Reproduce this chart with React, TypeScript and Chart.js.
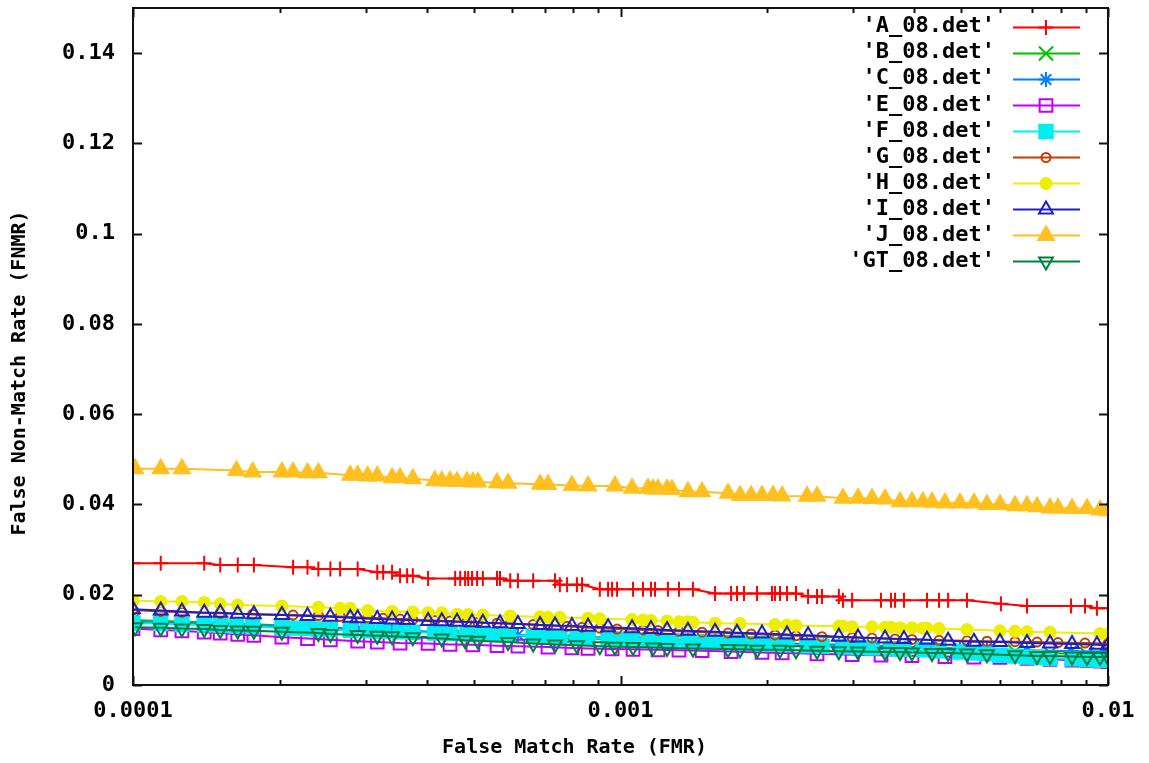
import React, { useEffect, useRef } from 'react';
import { Chart, registerables } from 'chart.js';
import { drawPoint } from 'chart.js/helpers';

Chart.register(...registerables);

// ---------- data (FMR on x, FNMR on y) ----------
const A_FMR = [1.0e-4, 1.14e-4, 1.40e-4, 1.51e-4, 1.64e-4, 1.77e-4, 2.13e-4, 2.28e-4, 2.40e-4, 2.54e-4, 2.66e-4, 2.89e-4, 3.17e-4, 3.26e-4, 3.40e-4, 3.53e-4, 3.65e-4, 3.75e-4, 4.03e-4, 4.58e-4, 4.69e-4, 4.80e-4, 4.87e-4, 4.96e-4, 5.08e-4, 5.22e-4, 5.58e-4, 5.66e-4, 5.94e-4, 6.16e-4, 6.62e-4, 7.34e-4, 7.51e-4, 7.77e-4, 8.14e-4, 8.34e-4, 9.07e-4, 9.43e-4, 9.61e-4, 9.84e-4, 1.061e-3, 1.112e-3, 1.155e-3, 1.177e-3, 1.251e-3, 1.318e-3, 1.408e-3, 1.563e-3, 1.686e-3, 1.734e-3, 1.792e-3, 1.906e-3, 2.045e-3, 2.074e-3, 2.124e-3, 2.196e-3, 2.291e-3, 2.425e-3, 2.530e-3, 2.590e-3, 2.805e-3, 2.860e-3, 2.986e-3, 3.423e-3, 3.589e-3, 3.657e-3, 3.815e-3, 4.253e-3, 4.502e-3, 4.699e-3, 5.136e-3, 6.03e-3, 6.822e-3, 8.40e-3, 8.97e-3, 9.49e-3, 1.0e-2];
const A_FNMR = [0.0270, 0.0270, 0.0270, 0.0266, 0.0266, 0.0266, 0.0261, 0.0261, 0.0257, 0.0257, 0.0257, 0.0257, 0.0250, 0.0250, 0.0250, 0.0242, 0.0242, 0.0242, 0.0236, 0.0236, 0.0236, 0.0236, 0.0236, 0.0236, 0.0236, 0.0236, 0.0236, 0.0236, 0.0231, 0.0231, 0.0231, 0.0231, 0.0222, 0.0222, 0.0222, 0.0222, 0.0212, 0.0212, 0.0212, 0.0212, 0.0212, 0.0212, 0.0212, 0.0212, 0.0212, 0.0212, 0.0212, 0.0203, 0.0203, 0.0203, 0.0203, 0.0203, 0.0203, 0.0203, 0.0203, 0.0203, 0.0203, 0.0196, 0.0196, 0.0196, 0.0196, 0.0188, 0.0188, 0.0188, 0.0188, 0.0188, 0.0188, 0.0188, 0.0188, 0.0188, 0.0188, 0.0180, 0.0175, 0.0175, 0.0175, 0.0170, 0.0170];

const B_FMR = [1.0e-4, 1.14e-4, 1.40e-4, 1.64e-4, 2.02e-4, 2.40e-4, 2.79e-4, 3.26e-4, 3.65e-4, 4.16e-4, 4.69e-4, 5.10e-4, 5.94e-4, 6.84e-4, 7.77e-4, 8.58e-4, 9.74e-4, 1.112e-3, 1.275e-3, 1.470e-3, 1.686e-3, 1.906e-3, 2.145e-3, 2.530e-3, 2.986e-3, 3.423e-3, 3.962e-3, 4.502e-3, 5.310e-3, 6.446e-3, 7.603e-3, 9.056e-3, 1.0e-2];
const B_FNMR = [0.0144, 0.0142, 0.0139, 0.0136, 0.0132, 0.0128, 0.0125, 0.0122, 0.0120, 0.0117, 0.0115, 0.0113, 0.0110, 0.0107, 0.0105, 0.0103, 0.0101, 0.0099, 0.0097, 0.0095, 0.0093, 0.0091, 0.0089, 0.0087, 0.0085, 0.0083, 0.0081, 0.0079, 0.0077, 0.0074, 0.0071, 0.0068, 0.0067];

const C_FMR = [1.0e-4, 1.26e-4, 1.51e-4, 1.77e-4, 2.13e-4, 2.54e-4, 2.89e-4, 3.40e-4, 3.75e-4, 4.30e-4, 4.87e-4, 5.58e-4, 6.16e-4, 7.10e-4, 8.14e-4, 9.43e-4, 1.061e-3, 1.177e-3, 1.375e-3, 1.563e-3, 1.792e-3, 2.055e-3, 2.413e-3, 2.805e-3, 3.280e-3, 3.745e-3, 4.355e-3, 4.970e-3, 5.646e-3, 6.822e-3, 8.40e-3, 1.0e-2];
const C_FNMR = [0.0140, 0.0137, 0.0134, 0.0132, 0.0129, 0.0126, 0.0124, 0.0121, 0.0119, 0.0117, 0.0115, 0.0113, 0.0111, 0.0109, 0.0107, 0.0105, 0.0103, 0.0101, 0.0099, 0.0097, 0.0095, 0.0093, 0.0091, 0.0089, 0.0087, 0.0085, 0.0083, 0.0081, 0.0079, 0.0077, 0.0075, 0.0074];

const E_FMR = [1.0e-4, 1.14e-4, 1.26e-4, 1.40e-4, 1.51e-4, 1.64e-4, 1.77e-4, 2.02e-4, 2.28e-4, 2.54e-4, 2.89e-4, 3.17e-4, 3.53e-4, 4.03e-4, 4.47e-4, 4.98e-4, 5.58e-4, 6.16e-4, 7.10e-4, 7.95e-4, 8.58e-4, 9.61e-4, 1.061e-3, 1.194e-3, 1.318e-3, 1.470e-3, 1.686e-3, 1.951e-3, 2.145e-3, 2.530e-3, 2.986e-3, 3.423e-3, 3.962e-3, 4.630e-3, 5.310e-3, 6.003e-3, 6.822e-3, 7.603e-3, 8.438e-3, 9.056e-3, 9.629e-3, 1.0e-2];
const E_FNMR = [0.0125, 0.0122, 0.0120, 0.0117, 0.0115, 0.0112, 0.0110, 0.0106, 0.0103, 0.0100, 0.0097, 0.0095, 0.0093, 0.0092, 0.0090, 0.0089, 0.0087, 0.0086, 0.0084, 0.0082, 0.0081, 0.0080, 0.0079, 0.0078, 0.0077, 0.0076, 0.0074, 0.0072, 0.0071, 0.0069, 0.0067, 0.0066, 0.0065, 0.0063, 0.0062, 0.0061, 0.0059, 0.0057, 0.0055, 0.0054, 0.0053, 0.0052];

const F_FMR = [1.0e-4, 1.14e-4, 1.26e-4, 1.40e-4, 1.51e-4, 1.63e-4, 1.76e-4, 2.02e-4, 2.13e-4, 2.28e-4, 2.40e-4, 2.54e-4, 2.79e-4, 3.03e-4, 3.26e-4, 3.53e-4, 3.75e-4, 4.16e-4, 4.47e-4, 4.84e-4, 5.22e-4, 5.58e-4, 5.88e-4, 6.62e-4, 7.10e-4, 7.51e-4, 8.14e-4, 8.58e-4, 9.43e-4, 9.88e-4, 1.056e-3, 1.139e-3, 1.194e-3, 1.275e-3, 1.375e-3, 1.470e-3, 1.563e-3, 1.662e-3, 1.759e-3, 1.853e-3, 1.951e-3, 2.055e-3, 2.196e-3, 2.413e-3, 2.590e-3, 2.860e-3, 3.071e-3, 3.280e-3, 3.589e-3, 3.815e-3, 4.173e-3, 4.502e-3, 4.970e-3, 5.310e-3, 5.646e-3, 6.003e-3, 6.446e-3, 6.822e-3, 7.152e-3, 7.603e-3, 8.438e-3, 9.056e-3, 9.629e-3, 1.0e-2];
const F_FNMR = [0.0137, 0.0136, 0.0134, 0.0133, 0.0132, 0.0130, 0.0129, 0.0127, 0.0126, 0.0125, 0.0124, 0.0123, 0.0121, 0.0120, 0.0119, 0.0118, 0.0117, 0.0115, 0.0114, 0.0113, 0.0112, 0.0111, 0.0110, 0.0109, 0.0108, 0.0107, 0.0105, 0.0104, 0.0103, 0.0102, 0.0101, 0.0100, 0.0099, 0.0098, 0.0097, 0.0096, 0.0095, 0.0094, 0.0093, 0.0092, 0.0091, 0.0090, 0.0089, 0.0087, 0.0086, 0.0084, 0.0083, 0.0082, 0.0080, 0.0079, 0.0078, 0.0076, 0.0073, 0.0071, 0.0069, 0.0066, 0.0064, 0.0062, 0.0061, 0.0059, 0.0058, 0.0056, 0.0055, 0.0055];

const G_FMR = [1.0e-4, 1.14e-4, 1.26e-4, 1.51e-4, 1.76e-4, 2.13e-4, 2.40e-4, 2.66e-4, 3.03e-4, 3.26e-4, 3.53e-4, 3.75e-4, 4.16e-4, 4.47e-4, 4.84e-4, 5.10e-4, 5.58e-4, 5.94e-4, 6.62e-4, 7.10e-4, 7.77e-4, 8.34e-4, 9.07e-4, 9.84e-4, 1.112e-3, 1.194e-3, 1.318e-3, 1.470e-3, 1.662e-3, 1.853e-3, 2.074e-3, 2.291e-3, 2.590e-3, 2.986e-3, 3.280e-3, 3.657e-3, 3.962e-3, 4.502e-3, 5.136e-3, 5.646e-3, 6.446e-3, 7.152e-3, 7.896e-3, 8.97e-3, 1.0e-2];
const G_FNMR = [0.0166, 0.0163, 0.0161, 0.0159, 0.0157, 0.0155, 0.0154, 0.0152, 0.0149, 0.0148, 0.0146, 0.0145, 0.0143, 0.0142, 0.0140, 0.0139, 0.0137, 0.0136, 0.0134, 0.0132, 0.0130, 0.0128, 0.0126, 0.0124, 0.0122, 0.0121, 0.0119, 0.0117, 0.0115, 0.0113, 0.0111, 0.0109, 0.0107, 0.0105, 0.0104, 0.0102, 0.0101, 0.0099, 0.0098, 0.0097, 0.0096, 0.0095, 0.0094, 0.0093, 0.0092];

const H_FMR = [1.0e-4, 1.14e-4, 1.26e-4, 1.40e-4, 1.51e-4, 1.64e-4, 2.02e-4, 2.40e-4, 2.66e-4, 2.79e-4, 3.03e-4, 3.40e-4, 3.75e-4, 4.03e-4, 4.30e-4, 4.62e-4, 4.87e-4, 5.22e-4, 5.94e-4, 6.84e-4, 7.10e-4, 7.51e-4, 8.58e-4, 9.07e-4, 1.056e-3, 1.112e-3, 1.155e-3, 1.246e-3, 1.318e-3, 1.375e-3, 1.408e-3, 1.563e-3, 1.759e-3, 2.074e-3, 2.196e-3, 2.291e-3, 2.805e-3, 2.860e-3, 2.986e-3, 3.280e-3, 3.488e-3, 3.589e-3, 3.745e-3, 3.962e-3, 4.173e-3, 4.253e-3, 4.502e-3, 5.136e-3, 6.003e-3, 6.446e-3, 6.822e-3, 7.603e-3, 9.629e-3, 1.0e-2];
const H_FNMR = [0.0187, 0.0185, 0.0185, 0.0183, 0.0180, 0.0177, 0.0175, 0.0172, 0.0170, 0.0170, 0.0165, 0.0163, 0.0162, 0.0160, 0.0160, 0.0157, 0.0156, 0.0155, 0.0153, 0.0151, 0.0150, 0.0150, 0.0148, 0.0147, 0.0145, 0.0144, 0.0143, 0.0142, 0.0140, 0.0140, 0.0139, 0.0137, 0.0136, 0.0134, 0.0133, 0.0132, 0.0130, 0.0130, 0.0129, 0.0129, 0.0128, 0.0128, 0.0127, 0.0127, 0.0126, 0.0126, 0.0125, 0.0123, 0.0120, 0.0119, 0.0118, 0.0117, 0.0114, 0.0113];

const I_FMR = [1.0e-4, 1.14e-4, 1.26e-4, 1.40e-4, 1.51e-4, 1.64e-4, 1.77e-4, 2.02e-4, 2.28e-4, 2.54e-4, 2.79e-4, 2.89e-4, 3.17e-4, 3.40e-4, 3.65e-4, 4.03e-4, 4.30e-4, 4.62e-4, 4.96e-4, 5.22e-4, 5.66e-4, 6.16e-4, 6.84e-4, 7.34e-4, 7.95e-4, 8.58e-4, 9.43e-4, 1.056e-3, 1.155e-3, 1.246e-3, 1.375e-3, 1.563e-3, 1.734e-3, 1.951e-3, 2.196e-3, 2.425e-3, 2.805e-3, 3.071e-3, 3.488e-3, 3.815e-3, 4.253e-3, 4.699e-3, 5.310e-3, 6.003e-3, 6.822e-3, 7.603e-3, 8.438e-3, 9.49e-3, 1.0e-2];
const I_FNMR = [0.0168, 0.0165, 0.0163, 0.0160, 0.0160, 0.0158, 0.0157, 0.0155, 0.0153, 0.0151, 0.0149, 0.0148, 0.0146, 0.0145, 0.0144, 0.0142, 0.0141, 0.0140, 0.0139, 0.0138, 0.0137, 0.0135, 0.0133, 0.0132, 0.0131, 0.0129, 0.0128, 0.0126, 0.0124, 0.0122, 0.0120, 0.0118, 0.0116, 0.0114, 0.0112, 0.0110, 0.0107, 0.0105, 0.0103, 0.0102, 0.0100, 0.0098, 0.0096, 0.0095, 0.0093, 0.0092, 0.0091, 0.0089, 0.0088];

const J_FMR = [1.01e-4, 1.14e-4, 1.26e-4, 1.63e-4, 1.76e-4, 2.02e-4, 2.13e-4, 2.28e-4, 2.40e-4, 2.79e-4, 2.89e-4, 3.03e-4, 3.17e-4, 3.40e-4, 3.53e-4, 3.75e-4, 4.16e-4, 4.30e-4, 4.47e-4, 4.62e-4, 4.84e-4, 4.98e-4, 5.10e-4, 5.58e-4, 5.88e-4, 6.84e-4, 7.10e-4, 7.95e-4, 8.58e-4, 9.74e-4, 1.056e-3, 1.139e-3, 1.166e-3, 1.194e-3, 1.246e-3, 1.275e-3, 1.375e-3, 1.470e-3, 1.662e-3, 1.759e-3, 1.853e-3, 1.951e-3, 2.055e-3, 2.145e-3, 2.413e-3, 2.530e-3, 2.860e-3, 3.071e-3, 3.280e-3, 3.488e-3, 3.745e-3, 3.962e-3, 4.173e-3, 4.355e-3, 4.630e-3, 4.970e-3, 5.310e-3, 5.646e-3, 6.003e-3, 6.446e-3, 6.822e-3, 7.152e-3, 7.603e-3, 7.896e-3, 8.438e-3, 9.056e-3, 9.629e-3, 1.0e-2];
const J_FNMR = [0.0479, 0.0479, 0.0479, 0.0475, 0.0472, 0.0472, 0.0472, 0.0470, 0.0470, 0.0465, 0.0465, 0.0463, 0.0463, 0.0459, 0.0459, 0.0457, 0.0453, 0.0452, 0.0452, 0.0451, 0.0451, 0.0450, 0.0450, 0.0448, 0.0447, 0.0445, 0.0444, 0.0442, 0.0441, 0.0441, 0.0436, 0.0436, 0.0434, 0.0434, 0.0434, 0.0433, 0.0428, 0.0428, 0.0425, 0.0420, 0.0420, 0.0420, 0.0420, 0.0419, 0.0418, 0.0418, 0.0414, 0.0414, 0.0413, 0.0412, 0.0406, 0.0406, 0.0406, 0.0405, 0.0403, 0.0403, 0.0403, 0.0400, 0.0400, 0.0397, 0.0397, 0.0395, 0.0392, 0.0392, 0.0391, 0.0391, 0.0388, 0.0386];

const GT_FMR = [1.01e-4, 1.14e-4, 1.26e-4, 1.40e-4, 1.51e-4, 1.64e-4, 1.77e-4, 2.02e-4, 2.40e-4, 2.54e-4, 2.89e-4, 3.17e-4, 3.40e-4, 3.75e-4, 4.30e-4, 4.80e-4, 5.10e-4, 5.88e-4, 6.62e-4, 7.34e-4, 8.14e-4, 9.07e-4, 9.74e-4, 1.061e-3, 1.166e-3, 1.246e-3, 1.408e-3, 1.662e-3, 1.759e-3, 1.906e-3, 2.124e-3, 2.291e-3, 2.530e-3, 2.805e-3, 3.071e-3, 3.488e-3, 3.745e-3, 3.962e-3, 4.355e-3, 4.699e-3, 5.136e-3, 5.646e-3, 6.446e-3, 7.152e-3, 7.603e-3, 8.438e-3, 9.056e-3, 9.629e-3, 1.0e-2];
const GT_FNMR = [0.0128, 0.0127, 0.0125, 0.0124, 0.0122, 0.0121, 0.0120, 0.0118, 0.0115, 0.0113, 0.0111, 0.0109, 0.0108, 0.0106, 0.0103, 0.0099, 0.0098, 0.0095, 0.0092, 0.0090, 0.0088, 0.0086, 0.0085, 0.0084, 0.0083, 0.0082, 0.0081, 0.0080, 0.0079, 0.0078, 0.0078, 0.0077, 0.0076, 0.0075, 0.0074, 0.0073, 0.0073, 0.0072, 0.0071, 0.0071, 0.0070, 0.0068, 0.0066, 0.0064, 0.0064, 0.0063, 0.0062, 0.0062, 0.0062];

const SERIES_NAMES = ["'A_08.det'", "'B_08.det'", "'C_08.det'", "'E_08.det'", "'F_08.det'", "'G_08.det'", "'H_08.det'", "'I_08.det'", "'J_08.det'", "'GT_08.det'"];
const SERIES_FMR = [A_FMR, B_FMR, C_FMR, E_FMR, F_FMR, G_FMR, H_FMR, I_FMR, J_FMR, GT_FMR];
const SERIES_FNMR = [A_FNMR, B_FNMR, C_FNMR, E_FNMR, F_FNMR, G_FNMR, H_FNMR, I_FNMR, J_FNMR, GT_FNMR];
const SERIES_COLORS = ['#ff0000', '#00c000', '#0080ff', '#c000ff', '#00eeee', '#c04000', '#eeee00', '#2020c0', '#ffc020', '#008040'];
const SERIES_POINT = ['cross', 'crossRot', 'star', 'rect', 'rect', 'circle', 'circle', 'triangle', 'triangle', 'triangle'];
const SERIES_FILLED = [false, false, false, false, true, false, true, false, true, false];
const SERIES_RADIUS = [7.5, 10, 7.5, 9, 9.5, 4.5, 5.5, 8, 9, 8];
const SERIES_ROTATION = [0, 0, 0, 0, 0, 0, 0, 0, 0, 180];

const X_TICKS = [0.0001, 0.001, 0.01];
const X_TICK_LABELS = ['0.0001', '0.001', '0.01'];
const Y_TICKS = [0, 0.02, 0.04, 0.06, 0.08, 0.1, 0.12, 0.14];
const Y_TICK_LABELS = ['0', '0.02', '0.04', '0.06', '0.08', '0.1', '0.12', '0.14'];
const X_TITLE = 'False Match Rate (FMR)';
const Y_TITLE = 'False Non-Match Rate (FNMR)';

const MONO = '"DejaVu Sans Mono", "Liberation Mono", monospace';

const gnuplotPlugin = {
  id: 'gnuplotDecor',
  afterDatasetsDraw(chart: any) {
    const { ctx, chartArea: a, scales } = chart;
    const xs = scales.x;
    const ys = scales.y;
    ctx.save();
    ctx.strokeStyle = '#111';
    ctx.lineWidth = 2;
    ctx.strokeRect(a.left, a.top, a.right - a.left, a.bottom - a.top);
    ctx.beginPath();
    for (const v of Y_TICKS) {
      const py = Math.round(ys.getPixelForValue(v)) + 0.5;
      ctx.moveTo(a.left, py); ctx.lineTo(a.left + 9, py);
      ctx.moveTo(a.right, py); ctx.lineTo(a.right - 9, py);
    }
    for (let e = -4; e <= -2; e++) {
      for (let k = 1; k <= 9; k++) {
        const v = k * Math.pow(10, e);
        if (v > 0.0100001) break;
        const len = k === 1 ? 9 : 5;
        const px = Math.round(xs.getPixelForValue(v)) + 0.5;
        ctx.moveTo(px, a.bottom); ctx.lineTo(px, a.bottom - len);
        ctx.moveTo(px, a.top); ctx.lineTo(px, a.top + len);
      }
    }
    ctx.stroke();
    ctx.restore();
  },
  afterDraw(chart: any) {
    const { ctx, width } = chart;
    ctx.save();
    ctx.fillStyle = '#000';
    ctx.font = `bold 20px ${MONO}`;
    ctx.textAlign = 'center';
    ctx.textBaseline = 'middle';
    ctx.fillText(X_TITLE, width / 2, 748);
    ctx.save();
    ctx.translate(20, 373);
    ctx.rotate(-Math.PI / 2);
    ctx.fillText(Y_TITLE, 0, 0);
    ctx.restore();

    ctx.font = `bold 22px ${MONO}`;
    ctx.textAlign = 'right';
    for (let i = 0; i < SERIES_NAMES.length; i++) {
      const y = 26.5 + i * 26.1;
      ctx.fillStyle = '#000';
      ctx.fillText(SERIES_NAMES[i], 995, y);
      const c = SERIES_COLORS[i];
      ctx.strokeStyle = c;
      ctx.lineWidth = 2;
      ctx.beginPath();
      ctx.moveTo(1013, Math.round(y) + 0.5);
      ctx.lineTo(1080, Math.round(y) + 0.5);
      ctx.stroke();
      ctx.fillStyle = SERIES_FILLED[i] ? c : 'rgba(0,0,0,0)';
      ctx.strokeStyle = c;
      ctx.lineWidth = 2;
      drawPoint(ctx, {
        pointStyle: SERIES_POINT[i],
        rotation: SERIES_ROTATION[i],
        radius: SERIES_RADIUS[i],
        borderWidth: 2,
      } as any, 1046, Math.round(y) + 0.5);
    }
    ctx.restore();
  },
};

export default function App() {
  const canvasRef = useRef<HTMLCanvasElement | null>(null);

  useEffect(() => {
    const canvas = canvasRef.current;
    if (!canvas) return;
    const datasets = SERIES_NAMES.map((name, i) => {
      const xs = SERIES_FMR[i];
      const ys = SERIES_FNMR[i];
      const n = Math.min(xs.length, ys.length);
      const data = [];
      for (let j = 0; j < n; j++) data.push({ x: xs[j], y: ys[j] });
      const c = SERIES_COLORS[i];
      return {
        label: name,
        data,
        borderColor: c,
        backgroundColor: c,
        borderWidth: 2,
        fill: false,
        tension: 0,
        pointStyle: SERIES_POINT[i],
        pointRadius: SERIES_RADIUS[i],
        pointHoverRadius: SERIES_RADIUS[i],
        pointBorderWidth: 2,
        pointBorderColor: c,
        pointBackgroundColor: SERIES_FILLED[i] ? c : 'rgba(0,0,0,0)',
        pointRotation: SERIES_ROTATION[i],
        order: SERIES_NAMES.length - i,
      };
    });

    const tickFont = { family: MONO, size: 22, weight: 'bold' as const };

    const chart = new Chart(canvas, {
      type: 'line',
      data: { datasets: datasets as any },
      options: {
        animation: false,
        responsive: false,
        events: [],
        layout: { autoPadding: false, padding: { top: 8, right: 41, left: 0, bottom: 0 } },
        plugins: { legend: { display: false }, tooltip: { enabled: false } },
        scales: {
          x: {
            type: 'logarithmic',
            min: 0.0001,
            max: 0.01,
            afterBuildTicks: (s: any) => { s.ticks = X_TICKS.map((v) => ({ value: v })); },
            afterFit: (s: any) => { s.height = 78; s.paddingLeft = 0; s.paddingRight = 0; s.paddingTop = 0; s.paddingBottom = 0; },
            grid: { display: false, drawTicks: false },
            border: { display: false },
            ticks: {
              autoSkip: false,
              maxRotation: 0,
              padding: 13,
              color: '#000',
              font: tickFont,
              callback: (_v: any, i: number) => X_TICK_LABELS[i],
            },
          },
          y: {
            type: 'linear',
            min: 0,
            max: 0.15,
            afterBuildTicks: (s: any) => { s.ticks = Y_TICKS.map((v) => ({ value: v })); },
            afterFit: (s: any) => { s.width = 133; s.paddingTop = 0; s.paddingBottom = 0; s.paddingLeft = 0; s.paddingRight = 0; },
            grid: { display: false, drawTicks: false },
            border: { display: false },
            ticks: {
              autoSkip: false,
              padding: 18,
              color: '#000',
              font: tickFont,
              callback: (_v: any, i: number) => Y_TICK_LABELS[i],
            },
          },
        },
      } as any,
      plugins: [gnuplotPlugin],
    });
    return () => chart.destroy();
  }, []);

  return (
    <div style={{ position: 'fixed', left: 0, top: 0, width: 1149, height: 763, background: '#fff' }}>
      <canvas ref={canvasRef} width={1149} height={763} style={{ display: 'block', width: 1149, height: 763 }} />
    </div>
  );
}
